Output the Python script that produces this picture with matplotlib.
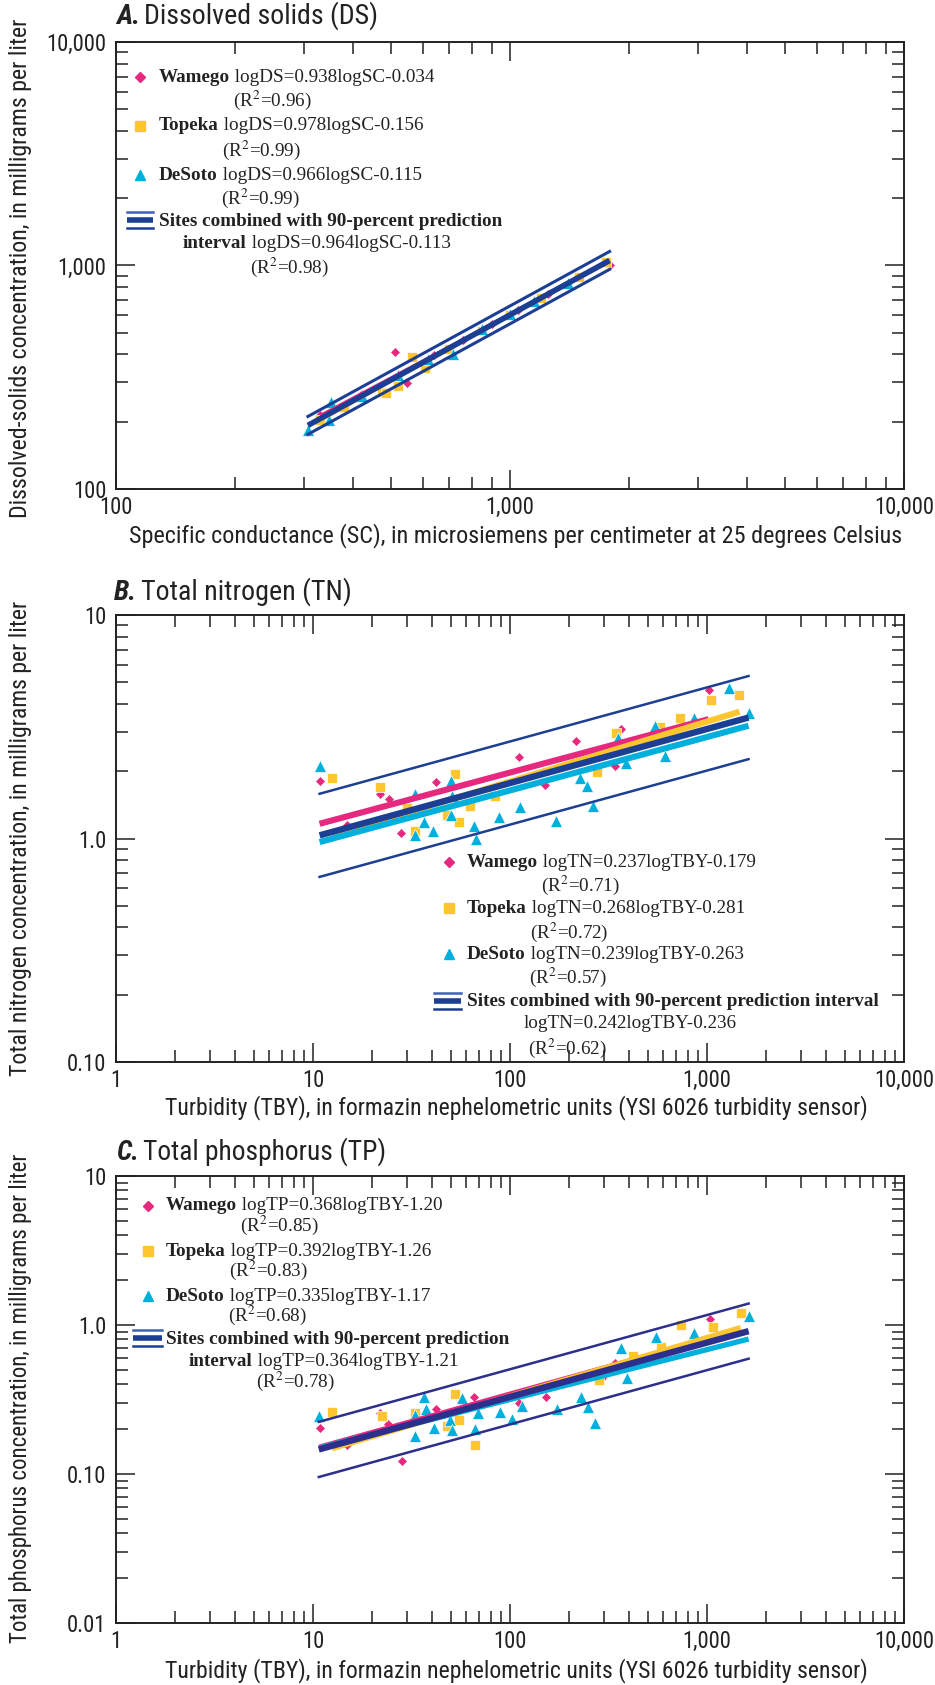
import numpy as np
import matplotlib
matplotlib.use("Agg")
import matplotlib.pyplot as plt
from matplotlib import font_manager

# ---------------- data ----------------
# A. Dissolved solids: specific conductance (uS/cm) vs DS (mg/L)
a_wam_sc = [330, 420, 510, 547, 640, 760, 900, 1050, 1250, 1790]
a_wam_ds = [215, 265, 412, 299, 396, 466, 545, 631, 743, 1010]
a_top_sc = [330, 380, 472, 484, 519, 563, 608, 700, 850, 1000, 1200, 1500, 1750]
a_top_ds = [203, 233, 273, 270, 288, 390, 348, 423, 511, 600, 716, 891, 1037]
a_des_sc = [307, 347, 351, 420, 520, 620, 716, 850, 1000, 1150, 1400]
a_des_ds = [184, 203, 246, 262, 323, 382, 400, 519, 607, 695, 839]

# B. Total nitrogen: turbidity (FNU) vs TN (mg/L)
b_wam_tby = [10.8, 14.9, 22.0, 24.2, 27.9, 42.3, 111, 151, 217, 343, 365, 1019]
b_wam_tn = [1.80, 1.15, 1.58, 1.50, 1.06, 1.79, 2.32, 1.74, 2.72, 2.12, 3.10, 4.64]
b_top_tby = [12.5, 22.0, 30.1, 32.8, 48.1, 52.5, 55.1, 62.8, 83.8, 275, 347, 578, 732, 1051, 1462]
b_top_tn = [1.86, 1.70, 1.37, 1.08, 1.28, 1.95, 1.19, 1.40, 1.55, 1.99, 2.98, 3.16, 3.46, 4.16, 4.40]
b_des_tby = [10.8, 32.9, 32.9, 36.5, 40.8, 50.0, 50.6, 50.0, 65.5, 67.3, 88.4, 113, 171, 226,
             246, 265, 354, 386, 543, 615, 855, 1300, 1625]
b_des_tn = [2.12, 1.58, 1.04, 1.18, 1.08, 1.80, 1.55, 1.28, 1.14, 1.00, 1.25, 1.38, 1.20, 1.87,
            1.71, 1.40, 2.83, 2.17, 3.19, 2.34, 3.45, 4.69, 3.63]

# C. Total phosphorus: turbidity (FNU) vs TP (mg/L)
c_wam_tby = [10.8, 14.8, 21.9, 24.1, 28.2, 42.2, 65.4, 111, 152, 292, 342, 1038]
c_wam_tp = [0.205, 0.157, 0.256, 0.215, 0.122, 0.271, 0.331, 0.300, 0.331, 0.442, 0.556, 1.10]
c_top_tby = [12.5, 22.3, 33.0, 47.9, 52.6, 55.2, 66.7, 284, 420, 581, 736, 1071, 1482]
c_top_tp = [0.259, 0.244, 0.256, 0.209, 0.345, 0.230, 0.157, 0.429, 0.624, 0.712, 1.00, 0.977, 1.195]
c_des_tby = [10.7, 33.0, 33.0, 36.8, 37.3, 40.9, 49.4, 50.9, 57.0, 66.7, 68.8, 89.4, 102.5, 115,
             174, 228, 250, 270, 368, 392, 552, 861, 1627]
c_des_tp = [0.244, 0.181, 0.249, 0.327, 0.271, 0.205, 0.230, 0.197, 0.325, 0.200, 0.256, 0.259,
            0.234, 0.287, 0.274, 0.331, 0.282, 0.221, 0.700, 0.442, 0.832, 0.881, 1.155]

# regression equations (slope, intercept) for Wamego, Topeka, DeSoto, combined
a_fits = [(0.938, -0.034), (0.978, -0.156), (0.966, -0.115), (0.964, -0.113)]
b_fits = [(0.237, -0.179), (0.268, -0.281), (0.239, -0.263), (0.242, -0.236)]
c_fits = [(0.368, -1.20), (0.392, -1.26), (0.335, -1.17), (0.364, -1.21)]
# half width of 90-percent prediction interval, log units
a_pi, b_pi, c_pi = 0.04, 0.186, 0.185

sites = ["Wamego", "Topeka", "DeSoto"]
a_eq = ["logDS=0.938logSC-0.034", "logDS=0.978logSC-0.156", "logDS=0.966logSC-0.115", "logDS=0.964logSC-0.113"]
a_r2 = ["0.96", "0.99", "0.99", "0.98"]
b_eq = ["logTN=0.237logTBY-0.179", "logTN=0.268logTBY-0.281", "logTN=0.239logTBY-0.263", "logTN=0.242logTBY-0.236"]
b_r2 = ["0.71", "0.72", "0.57", "0.62"]
c_eq = ["logTP=0.368logTBY-1.20", "logTP=0.392logTBY-1.26", "logTP=0.335logTBY-1.17", "logTP=0.364logTBY-1.21"]
c_r2 = ["0.85", "0.83", "0.68", "0.78"]

ticks_a = [100, 1000, 10000]
ticklab_a = ["100", "1,000", "10,000"]
ticks_x = [1, 10, 100, 1000, 10000]
ticklab_x = ["1", "10", "100", "1,000", "10,000"]
ticks_b = [0.1, 1, 10]
ticklab_b = ["0.10", "1.0", "10"]
ticks_c = [0.01, 0.1, 1, 10]
ticklab_c = ["0.01", "0.10", "1.0", "10"]

# ---------------- style ----------------
c_wam = "#e6287f"
c_top = "#fec62e"
c_des = "#00b0dc"
c_all = "#1c3f94"
c_all_c = "#2d2f8c"
ink = "#222222"

# pick a condensed sans font if one is installed
ttf = font_manager.fontManager.ttflist
names = {f.name for f in ttf}
narrow_name, stretch = None, "normal"
for n in ["Liberation Sans Narrow", "Roboto Condensed", "Open Sans Condensed", "Arial Narrow",
          "DejaVu Sans Condensed", "Noto Sans Condensed"]:
    if n in names:
        narrow_name = n
        break
if narrow_name is None:
    cond = [f for f in ttf if ("ondensed" in f.fname or "Narrow" in f.fname)
            and "Mono" not in f.fname and "Serif" not in f.fname]
    cond.sort(key=lambda f: ("DejaVu" not in f.fname, f.fname))
    if cond:
        narrow_name, stretch = cond[0].name, "condensed"
    else:
        narrow_name = "Liberation Sans"

plt.rcParams["font.family"] = [narrow_name, "DejaVu Sans"]
plt.rcParams["font.stretch"] = stretch
plt.rcParams["mathtext.fontset"] = "stix"
serif = dict(family=["Liberation Serif", "DejaVu Serif"], stretch="normal")

W, H = 935, 1685
fig = plt.figure(figsize=(W / 100, H / 100), dpi=100)
renderer = fig.canvas.get_renderer()


def fx(x):
    return x / W


def fy(y):
    return 1 - y / H


def text_len(t):
    bb = t.get_window_extent(renderer)
    return max(bb.width, bb.height)


def fit(t, target):
    t.set_fontsize(t.get_fontsize() * target / text_len(t))


def make_axes(left, top, right, bottom):
    return fig.add_axes([fx(left), fy(bottom), (right - left) / W, (bottom - top) / H])


# size of tick labels: "10,000" about 60 px wide
probe = fig.text(0, 0, "10,000", fontsize=15)
fit(probe, 60)
TICK_FS = min(probe.get_fontsize(), 19)
probe.remove()


def style_axes(ax, xlim, ylim, xt, xl, yt, yl):
    ax.set_xscale("log")
    ax.set_yscale("log")
    ax.set_xlim(*xlim)
    ax.set_ylim(*ylim)
    ax.set_xticks(xt, xl)
    ax.set_yticks(yt, yl)
    ax.tick_params(which="both", direction="in", top=True, right=True, width=1.1, color=ink)
    ax.tick_params(which="major", length=14, pad=7, labelsize=TICK_FS, labelcolor=ink)
    ax.tick_params(which="minor", length=8.5)
    ax.tick_params(axis="x", which="major", pad=5)
    for s in ax.spines.values():
        s.set_linewidth(1.4)
        s.set_color(ink)


def draw_panel(ax, pts, fits, pi, lw_site, lw_all, lw_pi, col_all):
    cols = [c_wam, c_top, c_des]
    marks = [("D", 5.4), ("s", 7.2), ("^", 8.8)]
    for (x, y), c, (m, ms) in zip(pts, cols, marks):
        ax.plot(x, y, ls="none", marker=m, ms=ms, mfc=c, mec="white", mew=0.5, zorder=2)
    for (x, y), c, (b, a) in zip(pts, cols, fits[:3]):
        xs = np.array([min(x), max(x)])
        ax.plot(xs, 10 ** (b * np.log10(xs) + a), color=c, lw=lw_site, solid_capstyle="butt", zorder=3)
    allx = np.concatenate([np.asarray(p[0]) for p in pts])
    xs = np.array([allx.min(), allx.max()])
    b, a = fits[3]
    ly = b * np.log10(xs) + a
    ax.plot(xs, 10 ** ly, color=col_all, lw=lw_all, solid_capstyle="butt", zorder=4)
    ax.plot(xs, 10 ** (ly + pi), color=col_all, lw=lw_pi, zorder=4)
    ax.plot(xs, 10 ** (ly - pi), color=col_all, lw=lw_pi, zorder=4)


FS = 13.8


def legend_row(ax, mx, nx, y, yr, name, eq, r2, color, marker, ms):
    ax.plot([fx(mx)], [fy(y)], transform=fig.transFigure, marker=marker, ms=ms, color=color,
            ls="none", clip_on=False)
    t1 = fig.text(fx(nx), fy(y), name, fontweight="bold", fontsize=FS, va="center", ha="left",
                  color=ink, **serif)
    t2 = ax.annotate(" " + eq, xy=(1, 0), xycoords=t1, fontsize=FS, va="bottom", ha="left",
                     color=ink, annotation_clip=False, **serif)
    ax.annotate("(R$^2$=" + r2 + ")", xy=(0, H - yr), xycoords=(t2, "figure pixels"),
                xytext=(3, 0), textcoords="offset pixels", fontsize=FS, va="center", ha="left",
                color=ink, annotation_clip=False, **serif)
    return t2


def legend_sites(ax, mx, nx, ys, yrs, eqs, r2s):
    marks = [("D", 5.4), ("s", 6.8), ("^", 7.6)]
    for i, c in enumerate([c_wam, c_top, c_des]):
        legend_row(ax, mx, nx, ys[i], yrs[i], sites[i], eqs[i], r2s[i], c, *marks[i])


def combo_symbol(ax, x0, x1, ymid, col):
    ax.plot([fx(x0), fx(x1)], [fy(ymid - 8)] * 2, transform=fig.transFigure, color="#3d63b5",
            lw=1.8, clip_on=False)
    ax.plot([fx(x0), fx(x1)], [fy(ymid)] * 2, transform=fig.transFigure, color=col, lw=4,
            clip_on=False, solid_capstyle="butt")
    ax.plot([fx(x0), fx(x1)], [fy(ymid + 8)] * 2, transform=fig.transFigure, color=col, lw=1.8,
            clip_on=False)


def combo_two_lines(ax, x_int, y_int, y_r2, eq, r2):
    t = fig.text(fx(x_int), fy(y_int), "interval", fontweight="bold", fontsize=FS, va="center",
                 ha="left", color=ink, **serif)
    t2 = ax.annotate(" " + eq, xy=(1, 0), xycoords=t, fontsize=FS, va="bottom", ha="left",
                     color=ink, annotation_clip=False, **serif)
    ax.annotate("(R$^2$=" + r2 + ")", xy=(0, H - y_r2), xycoords=(t2, "figure pixels"),
                xytext=(3, 0), textcoords="offset pixels", fontsize=FS, va="center", ha="left",
                color=ink, annotation_clip=False, **serif)


# ---------------- axes ----------------
axA = make_axes(116, 42, 904, 489)
axB = make_axes(116, 615, 904, 1062)
axC = make_axes(116, 1176, 904, 1623)

style_axes(axA, (100, 10000), (100, 10000), ticks_a, ticklab_a, ticks_a, ticklab_a)
style_axes(axB, (1, 10000), (0.1, 10), ticks_x, ticklab_x, ticks_b, ticklab_b)
style_axes(axC, (1, 10000), (0.01, 10), ticks_x, ticklab_x, ticks_c, ticklab_c)

draw_panel(axA, [(a_wam_sc, a_wam_ds), (a_top_sc, a_top_ds), (a_des_sc, a_des_ds)],
           a_fits, a_pi, 2.4, 4.0, 2.2, c_all)
draw_panel(axB, [(b_wam_tby, b_wam_tn), (b_top_tby, b_top_tn), (b_des_tby, b_des_tn)],
           b_fits, b_pi, 4.4, 4.6, 1.8, c_all)
draw_panel(axC, [(c_wam_tby, c_wam_tp), (c_top_tby, c_top_tp), (c_des_tby, c_des_tp)],
           c_fits, c_pi, 3.8, 4.6, 1.8, c_all_c)

# ---------------- titles ----------------
titles = [(116, 17, "A.", "Dissolved solids (DS)", 266),
          (114, 593, "B.", "Total nitrogen (TN)", 242),
          (116, 1152, "C.", "Total phosphorus (TP)", 274)]
for x, y, letter, text, width in titles:
    t1 = fig.text(fx(x), fy(y), letter, fontsize=18, fontweight="bold", fontstyle="italic",
                  va="center", ha="left", color=ink)
    t2 = fig.text(0, 0, text, fontsize=18, color=ink)
    scale = (width - 4) / (text_len(t1) + text_len(t2))
    t1.set_fontsize(18 * scale)
    t2.remove()
    axA.annotate(text, xy=(1, 0), xycoords=t1, xytext=(4, 0), textcoords="offset pixels",
                 fontsize=18 * scale, va="bottom", ha="left", color=ink, annotation_clip=False)

# ---------------- axis labels ----------------
xlabels = [(516, 536, "Specific conductance (SC), in microsiemens per centimeter at 25 degrees Celsius", 775),
           (516, 1108, "Turbidity (TBY), in formazin nephelometric units (YSI 6026 turbidity sensor)", 706),
           (516, 1671, "Turbidity (TBY), in formazin nephelometric units (YSI 6026 turbidity sensor)", 706)]
for x, y, s, width in xlabels:
    t = fig.text(fx(x), fy(y), s, fontsize=16, ha="center", va="center", color=ink)
    fit(t, width)

ylabels = [(21, 268, "Dissolved-solids concentration, in milligrams per liter", 500),
           (21, 838, "Total nitrogen concentration, in milligrams per liter", 474),
           (21, 1398, "Total phosphorus concentration, in milligrams per liter", 490)]
for x, y, s, width in ylabels:
    t = fig.text(fx(x), fy(y), s, fontsize=15, ha="center", va="center", rotation=90, color=ink)
    fit(t, width)

# ---------------- legends ----------------
# A
legend_sites(axA, 140, 159, [77, 126, 175], [100, 150, 198], a_eq, a_r2)
combo_symbol(axA, 127, 153, 220, c_all)
fig.text(fx(159), fy(222), "Sites combined with 90-percent prediction", fontweight="bold",
         fontsize=FS, va="center", ha="left", color=ink, **serif)
combo_two_lines(axA, 183, 244, 267, a_eq[3], a_r2[3])

# B
legend_sites(axB, 449, 467, [862, 908, 954], [885, 932, 977], b_eq, b_r2)
combo_symbol(axB, 434, 461, 1001, c_all)
fig.text(fx(467), fy(1001), "Sites combined with 90-percent prediction interval", fontweight="bold",
         fontsize=FS, va="center", ha="left", color=ink, **serif)
fig.text(fx(524), fy(1024), b_eq[3], fontsize=FS, va="center", ha="left", color=ink, **serif)
fig.text(fx(528), fy(1048), "(R$^2$=" + b_r2[3] + ")", fontsize=FS, va="center", ha="left",
         color=ink, **serif)

# C
legend_sites(axC, 148, 166, [1206, 1251, 1296], [1225, 1270, 1315], c_eq, c_r2)
combo_symbol(axC, 133, 162, 1338, c_all)
fig.text(fx(166), fy(1339), "Sites combined with 90-percent prediction", fontweight="bold",
         fontsize=FS, va="center", ha="left", color=ink, **serif)
combo_two_lines(axC, 189, 1361, 1381, c_eq[3], c_r2[3])

fig.savefig("out.png", dpi=100)
